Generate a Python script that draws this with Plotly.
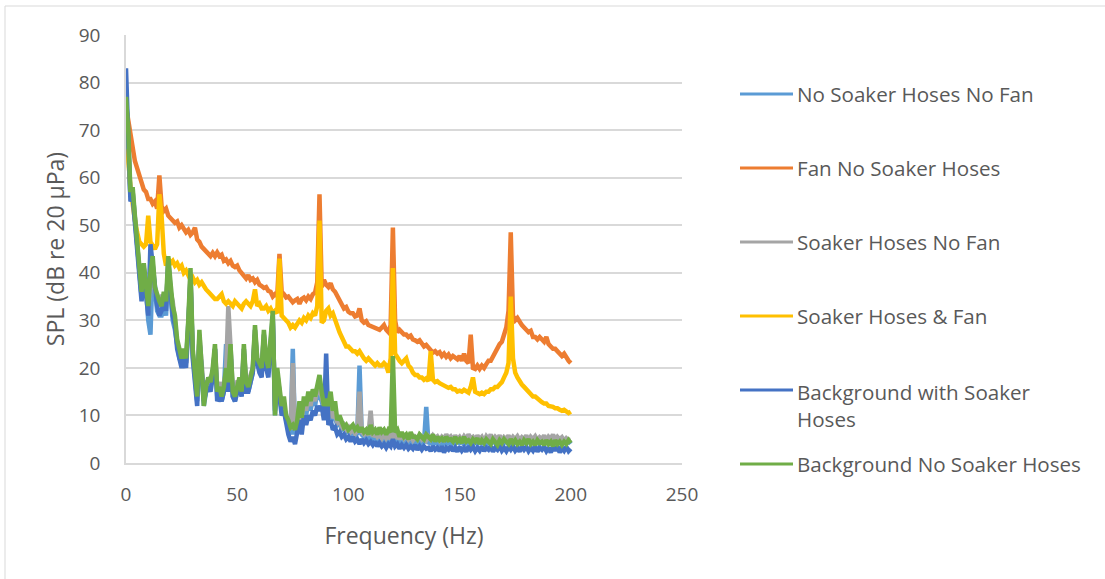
import plotly.graph_objects as go

# Frequency bins (Hz)
freq = list(range(0, 201))

# SPL spectra, dB re 20 uPa, one value per 1 Hz bin
no_soaker_no_fan = [
    78, 69, 56, 57, 51, 46, 38, 35, 41, 37, 30, 27, 41, 35, 32, 31, 31, 33, 31, 41,
    35, 30, 28, 24, 22, 21, 23, 21, 28, 38, 23, 18, 13, 26, 19, 12, 15, 17, 16, 19,
    24, 14, 15, 13, 15, 25, 16, 24, 14, 13, 15, 17, 14, 24, 16, 15, 17, 19, 28, 21,
    20, 19, 27, 21, 19, 24, 31, 10, 19, 15, 11, 12, 9, 7, 6, 24, 6, 8, 11, 8,
    12, 10, 13, 11, 14, 12, 15, 14, 13, 11, 12, 10, 11, 9, 9.5, 8, 8.5, 7, 7.5, 6.5,
    7, 6, 6.5, 5.8, 6.2, 20.5, 6, 5.5, 6, 5, 5.8, 5, 5.5, 4.8, 5.5, 4.5, 5.2, 4.5, 5, 4.5,
    6, 4.5, 5, 4.2, 4.8, 4, 4.8, 4.2, 4.5, 3.8, 4.6, 4, 4.5, 3.8, 4.4, 11.8, 4, 4.5, 3.8, 4.6,
    4, 4.4, 3.6, 4.5, 4, 4.8, 3.8, 4.5, 4, 5, 4.2, 4.6, 3.8, 4.8, 4, 4.5, 3.8, 4.6, 4, 4.8,
    4.2, 4.5, 3.8, 4.8, 4, 4.5, 4.2, 5, 4, 4.6, 4.2, 4.8, 4, 4.5, 3.8, 4.8, 4.2, 5, 4, 4.5,
    4.2, 4.8, 4, 4.6, 4.2, 5, 4, 4.6, 4.2, 4.8, 4, 4.5, 3.8, 5, 4.2, 4.6, 4, 4.8, 4.2, 4.6,
    4,
]

fan_no_soaker = [
    75, 72, 69, 66, 63.5, 62, 60.5, 59, 57.5, 57, 55.5, 55.5, 54.5, 55, 53.5, 60.5, 54, 53, 53.5, 52,
    51.5, 51, 50.5, 50.8, 49.5, 50, 49, 48.5, 49, 48, 48.5, 49.5, 47, 46.5, 45.5, 45, 44.3, 44, 43.5, 44.2,
    43.5, 44.3, 43.5, 43.8, 42.5, 42.8, 42, 42.5, 41.5, 41.2, 41.5, 40.5, 40, 39.2, 38.8, 39.5, 38.5, 38.8, 38, 38.5,
    37.5, 37.2, 36.8, 37, 36.2, 36, 35, 35.5, 35.2, 44, 36, 35.5, 34.8, 35, 34.5, 33.8, 34.2, 34.5, 33.5, 34.5,
    34.8, 34.2, 35, 34.5, 35.5, 35.8, 38, 56.5, 37, 38.5, 37.5, 37, 37.8, 36.5, 36, 35, 34.5, 33.5, 32.5, 32.8,
    31.8, 31.5, 31.5, 30.8, 31, 32.5, 30, 29.5, 29.8, 29, 28.8, 28.5, 28.5, 28.2, 28, 28.5, 29, 28, 27.5, 29,
    49.5, 30, 27.5, 28, 27.5, 27, 27, 26.5, 26.8, 26, 25.8, 25.5, 25.8, 25.2, 24.5, 24.8, 24.2, 23.5, 23.2, 23.5,
    23, 23.3, 22.5, 23, 22.3, 22.8, 22, 22.5, 22, 21.8, 22.5, 21.5, 23, 21.5, 21, 27, 20, 19.8, 20.5, 19.8,
    20.5, 20, 20.8, 21.5, 21.5, 22.5, 23, 24, 25, 25.5, 27, 28.5, 32, 48.5, 31, 30, 30.5, 29.5, 29, 28.5,
    28, 27.5, 27.8, 26.5, 26.5, 26, 26.5, 26, 25.5, 26.5, 25, 24.5, 24, 24, 23.5, 23, 22.5, 23, 22, 21.5,
    21,
]

soaker_no_fan = [
    76, 68, 56, 57, 51, 46, 39, 35, 41, 37, 32, 39, 42, 36, 34, 33, 35, 35, 33, 42,
    36, 34, 30, 25, 23, 21, 23, 21, 29, 40, 23, 18, 15, 27, 20, 15, 17, 17, 18, 19,
    24, 16, 17, 15, 17, 19, 33, 24, 16, 15, 17, 17, 16, 24, 17, 17, 19, 20, 28, 22,
    21, 20, 27, 22, 20, 24, 30, 12, 19, 15, 11, 12, 9, 8, 7, 21, 7, 9, 12, 9,
    13, 11, 14, 12, 15, 13, 16, 15, 14, 12, 12.5, 11, 12, 9.5, 10, 8.5, 9, 7.5, 8, 7,
    7.5, 6.5, 7, 6.2, 6.8, 15, 6.5, 6, 6.5, 5.8, 11, 5.5, 6.2, 5.5, 6, 5.2, 6, 5.2, 5.8, 5,
    7, 5.2, 5.8, 5, 6, 5.2, 5.8, 5, 5.6, 4.8, 5.5, 5, 5.8, 5, 5.5, 4.8, 5.6, 5, 5.8, 5.2,
    5.6, 4.8, 5.5, 5, 6, 5.2, 5.6, 4.8, 5.8, 5, 5.5, 4.8, 5.6, 5, 6, 5.2, 5.5, 4.8, 5.8, 5,
    5.5, 4.6, 5.6, 5, 6, 4.8, 5.5, 5, 5.8, 4.6, 5.4, 5, 5.8, 4.8, 5.5, 5, 5.6, 4.8, 5.4, 5,
    5.8, 4.6, 5.5, 5, 5.6, 4.8, 5.4, 5, 5.8, 4.6, 5.5, 5, 6, 4.8, 5.5, 5, 5.4, 4.6, 5.2, 4.8,
    5,
]

soaker_and_fan = [
    66, 64, 58, 54, 51, 48.5, 46.5, 46, 45.5, 46, 52, 46.5, 45.5, 45, 46, 56.5, 52, 44, 41.5, 43,
    42, 42.5, 41.5, 42, 41, 41.5, 40, 40.5, 39.5, 38.5, 39, 38, 38.5, 37.5, 38, 37, 36.5, 36, 35.5, 35,
    34.5, 34.5, 35, 35.5, 34, 33.5, 34, 33.5, 33, 34, 33.5, 33, 32.5, 33.5, 34, 33.5, 33, 34, 36.5, 33,
    33.5, 32.5, 32.5, 33, 32, 32.5, 31.5, 32, 31.5, 43, 31, 30.5, 30, 29.5, 28.5, 29, 28.5, 29.5, 30, 29.5,
    30.5, 30, 31, 30.5, 31.5, 31, 33, 51, 29.5, 30, 32, 32.5, 31, 31.5, 30, 28.5, 27.5, 26.5, 25.5, 24.5,
    24.5, 24, 23.5, 23.5, 23, 23.5, 22.5, 22, 21.5, 22, 21.5, 21, 20.5, 21, 20.5, 20.5, 21, 20.5, 19, 22,
    41, 23, 22, 21.5, 21, 21.5, 22, 20.5, 20, 19, 18.5, 18.5, 18, 18, 17.5, 17.8, 17.2, 23.5, 17.5, 17,
    17.2, 16.8, 16.5, 16.2, 16, 15.8, 16, 15.5, 15.5, 15, 15.2, 15, 15.4, 15, 14.8, 16, 18, 15, 14.8, 14.5,
    14.8, 14.5, 15, 15, 15.5, 15.5, 16, 16, 16.5, 17, 18, 19, 21, 35, 22, 19, 18, 17, 16.5, 16,
    15.5, 15, 14.5, 14, 14, 13.5, 13.2, 12.8, 12.5, 12.5, 12, 12, 11.8, 11.5, 11.5, 11.2, 11, 11.2, 10.8, 10.5,
    10.8,
]

background_soaker = [
    83, 68, 55, 56, 50, 46, 37, 34, 40, 36, 31, 46, 42, 36, 33, 31, 32, 34, 32, 42.5,
    36, 31, 29, 24, 22, 20, 22, 20, 28, 39, 22, 16, 12, 26, 18, 13, 15, 16, 15, 18,
    24, 13, 14, 13, 15, 19, 15, 23, 14, 13, 15, 16, 14, 23, 15, 15, 17, 19, 27, 21,
    19, 18, 26, 20, 18, 23, 30, 11, 18, 14, 10, 11, 8, 6, 4.5, 5.5, 4, 6, 9, 6,
    10, 8, 10, 9, 11, 10, 12, 11, 12, 9, 23, 8, 9, 7, 7.5, 6, 6.5, 5.5, 6, 5,
    5.5, 4.5, 5.5, 4.5, 5, 4, 5, 4.2, 4.8, 4, 4.5, 3.8, 4.5, 3.5, 4.2, 3.5, 4, 3.2, 4, 3.5,
    5, 3.5, 4, 3, 3.8, 3.2, 3.8, 3, 3.5, 3, 3.8, 2.8, 3.5, 2.8, 3.5, 3, 3.2, 2.5, 3.5, 2.8,
    3.2, 2.5, 3.5, 2.2, 3.2, 2.8, 3.5, 2.5, 3.2, 2.4, 3.4, 2.6, 3.2, 2.4, 3.5, 2.8, 3.4, 2.5, 3.2, 2.6,
    3.5, 2.5, 3.2, 2.8, 3.5, 2.4, 3.2, 2.8, 3.6, 2.6, 3.2, 2.5, 3.4, 2.8, 3.5, 2.6, 3.2, 2.4, 3.5, 2.8,
    3.4, 2.5, 3.2, 2.6, 3.5, 2.4, 3.2, 2.8, 3.4, 2.5, 3.2, 2.2, 3.4, 2.6, 3.5, 2.2, 3.2, 2.6, 3.4, 2.5,
    3,
]

background_no_soaker = [
    77, 70, 57, 58, 52, 47, 40, 36, 42, 38, 33, 40, 43.5, 37, 35, 34, 33, 36, 34, 43.5,
    38, 33, 31, 26, 24, 22, 24, 22, 30, 41, 24, 19, 14, 28, 20, 12, 16, 18, 17, 20,
    25, 15, 16, 14, 16, 20, 17, 25, 15, 14, 16, 18, 15, 25, 17, 16, 18, 20, 29, 22,
    21, 20, 28, 22, 20, 25, 32, 10, 20, 16, 12, 14, 10, 9, 7.5, 8, 7, 9, 13, 9.5,
    14, 12, 15, 13, 15.5, 14, 16.5, 18.5, 15, 12, 13.5, 12, 15, 11, 13, 9, 10, 8.5, 7.5, 8,
    7, 7.5, 8, 7, 7.5, 6.5, 7.5, 6.5, 7, 6, 8, 6.5, 7, 6, 7.5, 6.5, 7, 6, 7, 6.5,
    22.5, 6.5, 7, 5.5, 6.5, 5.5, 6, 5, 6.5, 5.5, 5.5, 5, 6, 5.5, 5, 6, 5.5, 5, 6, 4.5,
    5.5, 4.8, 5.2, 4.5, 5.5, 4.8, 5, 4.5, 5.5, 4.5, 5, 4.2, 5.5, 4.5, 4.8, 4.2, 5, 4.5, 5.2, 4,
    4.8, 4.2, 5, 4.5, 4, 5, 4.5, 3.8, 4.8, 4.2, 5, 4.5, 4, 5, 4.2, 4.8, 4, 4.5, 3.8, 4.8,
    4.2, 5, 4, 4.5, 3.8, 4.8, 4.2, 4.5, 3.8, 4.8, 4, 4.5, 3.5, 4.8, 4, 4.5, 3.8, 4.5, 4, 4.8,
    4.2,
]

series = [
    ("No Soaker Hoses No Fan", no_soaker_no_fan, "#5B9BD5"),
    ("Fan No Soaker Hoses", fan_no_soaker, "#ED7D31"),
    ("Soaker Hoses No Fan", soaker_no_fan, "#A5A5A5"),
    ("Soaker Hoses & Fan", soaker_and_fan, "#FFC000"),
    ("Background with Soaker Hoses", background_soaker, "#4472C4"),
    ("Background No Soaker Hoses", background_no_soaker, "#70AD47"),
]

W, H = 1105, 579
PL, PR, PT, PB = 126, 682, 35, 463   # plot area in pixels
TEXT = "#595959"
FONT = "Open Sans"


def px(x):
    return (x - PL) / (PR - PL)


def py(y):
    return (PB - y) / (PB - PT)


fig = go.Figure()
for name, vals, color in series:
    fig.add_trace(go.Scatter(
        x=freq, y=vals, mode="lines", name=name,
        line=dict(color=color, width=4.5),
        showlegend=False, hoverinfo="skip",
    ))

# Legend drawn as line samples plus labels on the right
legend_rows = [94, 168, 242, 316, 390, 464]
legend_text = [
    "No Soaker Hoses No Fan",
    "Fan No Soaker Hoses",
    "Soaker Hoses No Fan",
    "Soaker Hoses & Fan",
    "Background with Soaker<br>Hoses",
    "Background No Soaker Hoses",
]
shapes = []
annotations = []
for (name, _, color), row, label in zip(series, legend_rows, legend_text):
    shapes.append(dict(type="line", xref="paper", yref="paper",
                       x0=px(740), x1=px(793), y0=py(row), y1=py(row),
                       line=dict(color=color, width=3)))
    two_lines = "<br>" in label
    annotations.append(dict(xref="paper", yref="paper", x=px(795),
                            y=py(row + 15 if two_lines else row),
                            text=label, showarrow=False, xanchor="left", yanchor="middle",
                            align="left", font=dict(family=FONT, size=20.6, color=TEXT)))

# Chart frame
shapes.append(dict(type="rect", xref="paper", yref="paper",
                   x0=px(5), x1=px(1200), y0=py(700), y1=py(6),
                   line=dict(color="#D9D9D9", width=1), fillcolor="rgba(0,0,0,0)", layer="below"))

fig.update_layout(
    width=W, height=H,
    margin=dict(l=PL, r=W - PR, t=PT, b=H - PB),
    paper_bgcolor="white", plot_bgcolor="white",
    font=dict(family=FONT, color=TEXT, size=19),
    shapes=shapes, annotations=annotations,
    showlegend=False,
)
fig.update_xaxes(
    range=[0, 250], dtick=50, tick0=0, showgrid=False, zeroline=False,
    showline=True, linecolor="#D9D9D9", linewidth=1.5,
    ticks="", ticklabelstandoff=13,
    tickfont=dict(family=FONT, size=19, color=TEXT),
    title=dict(text="Frequency (Hz)", standoff=22, font=dict(family=FONT, size=23, color=TEXT)),
)
fig.update_yaxes(
    range=[0, 90], dtick=10, tick0=0, showgrid=True, gridcolor="#D9D9D9", gridwidth=1.5,
    zeroline=False, showline=True, linecolor="#D9D9D9", linewidth=1.5,
    ticks="", ticklabelstandoff=20,
    tickfont=dict(family=FONT, size=19, color=TEXT),
    title=dict(text="SPL (dB re 20 μPa)", standoff=8, font=dict(family=FONT, size=23, color=TEXT)),
)

fig.write_html("out.html")
